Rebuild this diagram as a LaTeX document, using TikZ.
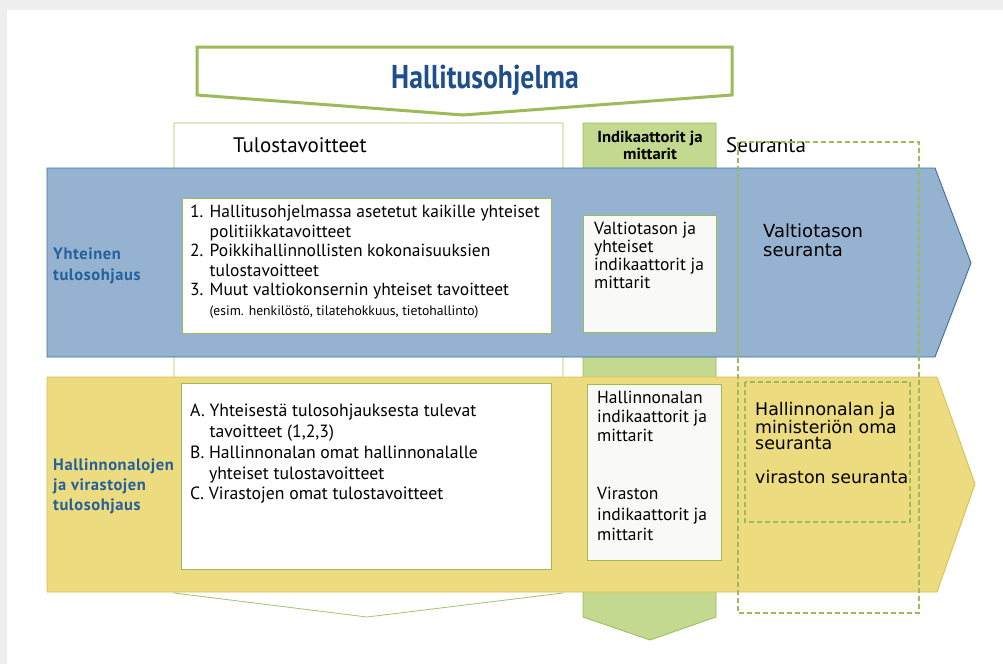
\documentclass[tikz,border=0pt]{standalone}
\usepackage{fontspec}
\setmainfont{PT Sans}
\newfontfamily\titlefont[FakeStretch=0.84]{PT Sans}
\newfontfamily\headfont[FakeStretch=1.04]{PT Sans}
\newfontfamily\spacedfont[LetterSpace=3.5]{PT Sans}
\newfontfamily\widefont{DejaVu Sans}

\definecolor{framegray}{HTML}{EEEEEE}
\definecolor{bandblue}{HTML}{95B3D0}
\definecolor{bandblueline}{HTML}{3F6F9C}
\definecolor{bandyellow}{HTML}{EDDB80}
\definecolor{bandyellowline}{HTML}{D9C152}
\definecolor{leafgreen}{HTML}{C3D98F}
\definecolor{leafline}{HTML}{9BBB59}
\definecolor{labelblue}{HTML}{24609C}
\definecolor{titleblue}{HTML}{1E4F8C}
\definecolor{paper}{HTML}{F9F9F7}

\tikzset{
  band/.style={line width=0.9pt, line join=miter},
  listbox/.style={fill=white, draw=leafline, line width=0.8pt},
  metricbox/.style={fill=paper, draw=leafline, line width=0.8pt},
  trackframe/.style={draw=leafline, line width=1.6pt, dash pattern=on 5pt off 3pt},
  bodytext/.style={anchor=north west, inner sep=0pt, align=left, text=black,
    font=\fontsize{17.5}{19.5}\selectfont},
  sidelabel/.style={anchor=north west, inner sep=0pt, align=left, text=labelblue,
    font=\spacedfont\bfseries\fontsize{16.5}{21}\selectfont},
  metrictext/.style={anchor=north west, inner sep=0pt, align=left, text=black,
    font=\fontsize{17.5}{18}\selectfont},
  tracktext/.style={anchor=north west, inner sep=0pt, align=left, text=black,
    font=\widefont\fontsize{17.4}{16}\selectfont},
}

\begin{document}
\begin{tikzpicture}[x=1pt,y=-1pt]
\useasboundingbox (0,0) rectangle (1003,664);
\fill[white] (0,0) rectangle (1003,664);
% soft grey frame along the top and left edges
\fill[framegray] (0,0) rectangle (1003,10);
\fill[framegray] (0,0) rectangle (7,664);

% government programme banner
\draw[fill=white, draw=leafline, line width=3pt, line join=miter]
  (197,47) -- (732,47) -- (732,95) -- (463,115) -- (197,95) -- cycle;
\node[font=\titlefont\bfseries\fontsize{33}{33}\selectfont, text=titleblue,
  anchor=base, inner sep=0pt] (title) at (485,88) {Hallitusohjelma};

% column of performance targets
\draw[fill=white, draw=leafline!90, line width=0.8pt]
  (174,123) -- (563,123) -- (563,593) -- (367,617) -- (174,593) -- cycle;
\node[font=\fontsize{21}{21}\selectfont, anchor=base west, inner sep=0pt]
  (targets) at (233,152) {Tulostavoitteet};

% column of indicators
\draw[fill=leafgreen, draw=leafline, line width=0.8pt]
  (583,123) -- (716,123) -- (716,617) -- (650,640) -- (583,617) -- cycle;
\node[font=\headfont\bfseries\fontsize{16}{17}\selectfont, align=center, inner sep=0pt]
  (indhead) at (650,145) {Indikaattorit ja\\mittarit};

\node[font=\fontsize{21}{21}\selectfont, anchor=base west, inner sep=0pt]
  (track) at (726,152) {Seuranta};

% common performance steering band
\draw[band, fill=bandblue, draw=bandblueline]
  (47,168) -- (935,168) -- (971,263) -- (935,357) -- (47,357) -- cycle;
% administrative branch band
\draw[band, fill=bandyellow, draw=bandyellowline]
  (47,377) -- (937,377) -- (975,484) -- (937,592) -- (47,592) -- cycle;

% boxes inside the bands
\draw[listbox] (182,198) rectangle (551,333);
\draw[metricbox] (583,215) rectangle (716,332);
\draw[listbox] (181,383) rectangle (551,569);
\draw[metricbox] (587,384) rectangle (721,560);

% follow-up frames
\draw[trackframe] (738,142) rectangle (919,613);
\draw[trackframe] (745,382) rectangle (910,522);

% band labels
\node[sidelabel] (commonlbl) at (53,248) {Yhteinen\\tulosohjaus};
\node[sidelabel, font=\spacedfont\bfseries\fontsize{16.5}{20}\selectfont]
  (branchlbl) at (53,459) {Hallinnonalojen\\ja virastojen\\tulosohjaus};

% lists of targets
\node[bodytext] (list1) at (190,205)
  {1. Hallitusohjelmassa asetetut kaikille yhteiset\\
   \hphantom{1. }politiikkatavoitteet\\
   2. Poikkihallinnollisten kokonaisuuksien\\
   \hphantom{2. }tulostavoitteet\\
   3. Muut valtiokonsernin yhteiset tavoitteet\\
   \hphantom{3. }{\fontsize{13.7}{19.5}\selectfont(esim. henkilöstö, tilatehokkuus, tietohallinto)}};
\node[bodytext, font=\fontsize{17.7}{20.8}\selectfont] (list2) at (190,404)
  {A. Yhteisestä tulosohjauksesta tulevat\\
   \hphantom{A. }tavoitteet (1,2,3)\\
   B. Hallinnonalan omat hallinnonalalle\\
   \hphantom{B. }yhteiset tulostavoitteet\\
   C. Virastojen omat tulostavoitteet};

% indicator texts
\node[metrictext] (ind1) at (594,222)
  {Valtiotason ja\\yhteiset\\indikaattorit ja\\mittarit};
\node[metrictext, font=\fontsize{17.5}{19}\selectfont] (ind2) at (597,391)
  {Hallinnonalan\\indikaattorit ja\\mittarit};
\node[metrictext, font=\fontsize{17.5}{20.5}\selectfont] (ind3) at (597,487)
  {Viraston\\indikaattorit ja\\mittarit};

% follow-up texts
\node[tracktext, font=\widefont\fontsize{18}{19}\selectfont] (stateftl) at (763,224)
  {Valtiotason\\seuranta};
\node[tracktext] (branchftl) at (755,402)
  {Hallinnonalan ja\\ministeriön oma\\seuranta};
\node[tracktext] (agencyftl) at (755,470) {viraston seuranta};
\end{tikzpicture}
\end{document}
